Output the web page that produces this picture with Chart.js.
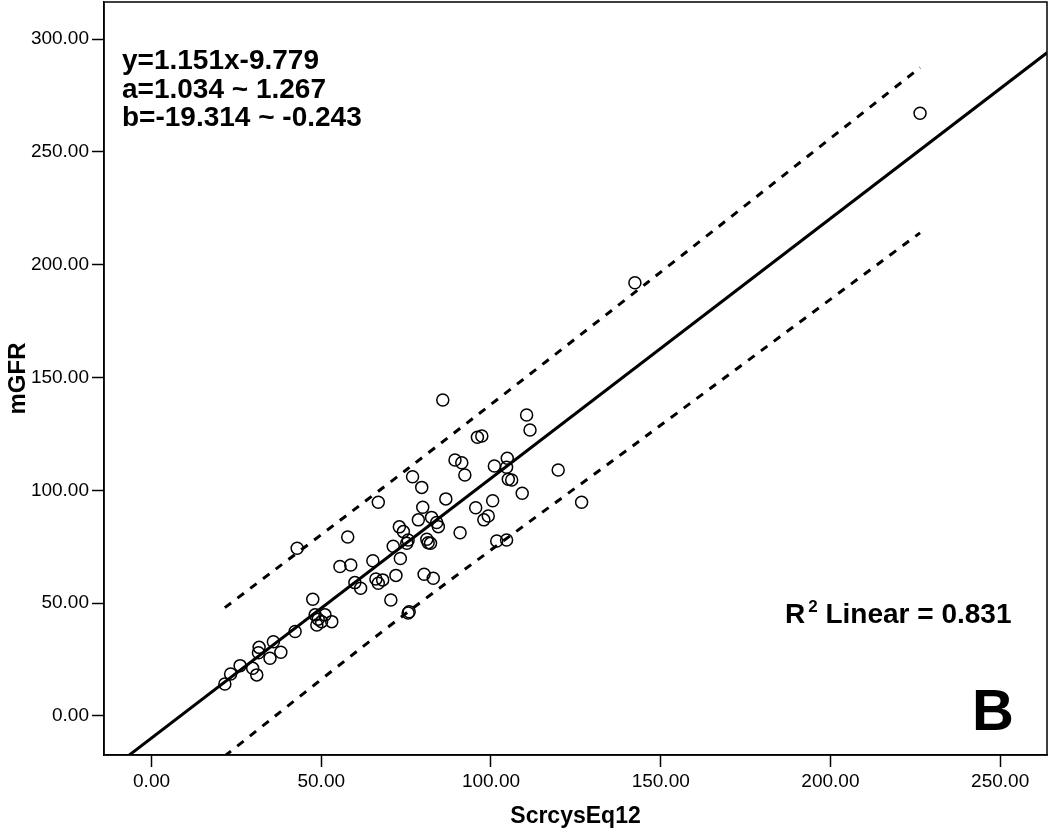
<!DOCTYPE html>
<html>
<head>
<meta charset="utf-8">
<script src="https://cdn.jsdelivr.net/npm/chart.js@4.4.0/dist/chart.umd.min.js"></script>
<style>
html, body { margin: 0; padding: 0; background: #fff; }
</style>
</head>
<body>
<canvas id="scatter_chart" width="1050" height="839"></canvas>
<script>
var scrcys = [21.6, 23.3, 26.1, 29.8, 31.0, 31.7, 31.5, 35.9, 38.1, 34.9,
              42.3, 42.9, 47.5, 48.2, 48.7, 50.1, 51.1, 53.1, 49.1, 57.8,
              55.5, 58.7, 65.2, 59.9, 61.6, 66.8, 68.1, 66.1, 70.5, 72.0,
              71.2, 73.3, 66.8, 73.0, 74.2, 75.6, 75.9, 75.6, 80.3, 83.0,
              75.2, 81.5, 82.2, 76.9, 79.6, 86.7, 79.9, 78.6, 82.5, 84.0,
              84.5, 81.1, 90.9, 95.5, 100.5, 97.9, 99.2, 101.7, 104.6, 85.8,
              110.5, 111.5, 96.0, 97.3, 89.4, 91.4, 92.3, 101.0, 104.8, 104.6,
              105.1, 106.1, 109.2, 119.8, 126.7, 142.4, 226.4];
var mgfr =   [14.2, 18.6, 22.3, 21.1, 18.2, 30.4, 28.0, 32.9, 28.2, 25.6,
              37.4, 74.3, 51.7, 44.8, 40.3, 41.8, 44.8, 41.8, 42.9, 79.3,
              66.2, 66.9, 68.8, 59.1, 56.6, 58.8, 60.3, 60.7, 51.4, 62.3,
              75.2, 69.8, 94.7, 83.8, 81.7, 78.0, 46.2, 45.6, 62.8, 61.0,
              76.5, 76.8, 76.5, 106.0, 101.3, 96.2, 92.5, 86.9, 88.0, 85.7,
              83.9, 78.3, 81.2, 92.3, 95.4, 86.9, 88.6, 77.5, 78.0, 140.0,
              133.4, 126.7, 123.5, 124.1, 113.4, 112.2, 106.8, 110.8, 114.2, 110.2,
              104.9, 104.6, 98.7, 109.0, 94.7, 192.0, 267.1];

// fit line y=1.151x-9.779 (end points across the frame)
var fitX = [-14, 263.8];
var fitY = [-25.9, 293.9];

// prediction band (dashed)
var bandX = [21.6, 75, 146, 226.4];
var upperY = [48, 109, 192, 287.3];
var lowerY = [-17.7, 45.5, 124.4, 214.1];

var equationText = ['y=1.151x-9.779', 'a=1.034 ~ 1.267', 'b=-19.314 ~ -0.243'];
var r2Text = ' Linear = 0.831';
var panelLabel = 'B';

var FONT = '"Liberation Sans", Arial, sans-serif';

function toPoints(xs, ys) {
    return xs.map((x, i) => ({x: x, y: ys[i]}));
}

function noPadding(scale) {
    scale.paddingTop = 0;
    scale.paddingBottom = 0;
    scale.paddingLeft = 0;
    scale.paddingRight = 0;
}

var frameAndText = {
    id: 'frameAndText',
    afterDraw: function(chart) {
        var ctx = chart.ctx;
        var a = chart.chartArea;
        ctx.save();
        ctx.strokeStyle = '#000';
        ctx.lineWidth = 1.5;
        ctx.strokeRect(a.left, a.top, a.right - a.left, a.bottom - a.top);

        ctx.fillStyle = '#000';
        ctx.textBaseline = 'alphabetic';
        ctx.textAlign = 'left';
        ctx.font = 'bold 28px ' + FONT;
        equationText.forEach((t, i) => {
            ctx.fillText(t, 122, 69 + i * 28.5);
        });

        // R² Linear
        ctx.font = 'bold 28px ' + FONT;
        ctx.fillText('R', 785, 623);
        var rw = ctx.measureText('R').width;
        ctx.font = 'bold 17px ' + FONT;
        ctx.fillText('2', 785 + rw + 3, 612);
        var sw = ctx.measureText('2').width;
        ctx.font = 'bold 28px ' + FONT;
        ctx.fillText(r2Text, 785 + rw + 3 + sw, 623);

        ctx.font = 'bold 58px ' + FONT;
        ctx.fillText(panelLabel, 972, 730);
        ctx.restore();
    }
};

document.addEventListener('DOMContentLoaded', function() {
    var ctx = document.getElementById('scatter_chart');

    new Chart(ctx, {
        type: 'scatter',
        data: {
            datasets: [
                {
                    label: 'mGFR',
                    data: toPoints(scrcys, mgfr),
                    pointStyle: 'circle',
                    pointRadius: 6,
                    pointHoverRadius: 6,
                    borderWidth: 1.5,
                    borderColor: '#000',
                    backgroundColor: 'rgba(0,0,0,0)'
                },
                {
                    type: 'line',
                    label: 'fit',
                    data: toPoints(fitX, fitY),
                    borderColor: '#000',
                    borderWidth: 3,
                    pointRadius: 0,
                    fill: false
                },
                {
                    type: 'line',
                    label: 'upper',
                    data: toPoints(bandX, upperY),
                    borderColor: '#000',
                    borderWidth: 3,
                    borderDash: [8, 8],
                    pointRadius: 0,
                    tension: 0.3,
                    fill: false
                },
                {
                    type: 'line',
                    label: 'lower',
                    data: toPoints(bandX, lowerY),
                    borderColor: '#000',
                    borderWidth: 3,
                    borderDash: [8, 8],
                    pointRadius: 0,
                    tension: 0.3,
                    fill: false
                }
            ]
        },
        options: {
            responsive: false,
            animation: false,
            layout: { autoPadding: false, padding: { left: 0, top: 2, right: 3, bottom: 0 } },
            plugins: {
                legend: { display: false },
                tooltip: { enabled: false }
            },
            scales: {
                x: {
                    type: 'linear',
                    min: -14,
                    max: 263.8,
                    afterFit: function(scale) { scale.height = 84; noPadding(scale); },
                    grid: { drawOnChartArea: false, drawTicks: true, tickLength: 12, tickWidth: 1.5, tickColor: '#000' },
                    border: { display: true, color: '#000', width: 1.5 },
                    ticks: {
                        stepSize: 50,
                        includeBounds: false,
                        maxRotation: 0,
                        padding: 3,
                        color: '#000',
                        font: { family: FONT, size: 19 },
                        callback: (v) => v.toFixed(2)
                    },
                    title: {
                        display: true,
                        text: 'ScrcysEq12',
                        color: '#000',
                        font: { family: FONT, size: 23, weight: 'bold' },
                        padding: { top: 0, bottom: 9 }
                    }
                },
                y: {
                    type: 'linear',
                    min: -17.3,
                    max: 316.4,
                    afterFit: function(scale) { scale.width = 104; noPadding(scale); },
                    grid: { drawOnChartArea: false, drawTicks: true, tickLength: 12, tickWidth: 1.5, tickColor: '#000' },
                    border: { display: true, color: '#000', width: 1.5 },
                    ticks: {
                        stepSize: 50,
                        includeBounds: false,
                        padding: 3,
                        color: '#000',
                        font: { family: FONT, size: 19 },
                        callback: (v) => v.toFixed(2)
                    },
                    title: {
                        display: true,
                        text: 'mGFR',
                        color: '#000',
                        font: { family: FONT, size: 24, weight: 'bold' },
                        padding: { top: 4, bottom: 0 }
                    }
                }
            }
        },
        plugins: [frameAndText]
    });
});
</script>
</body>
</html>
